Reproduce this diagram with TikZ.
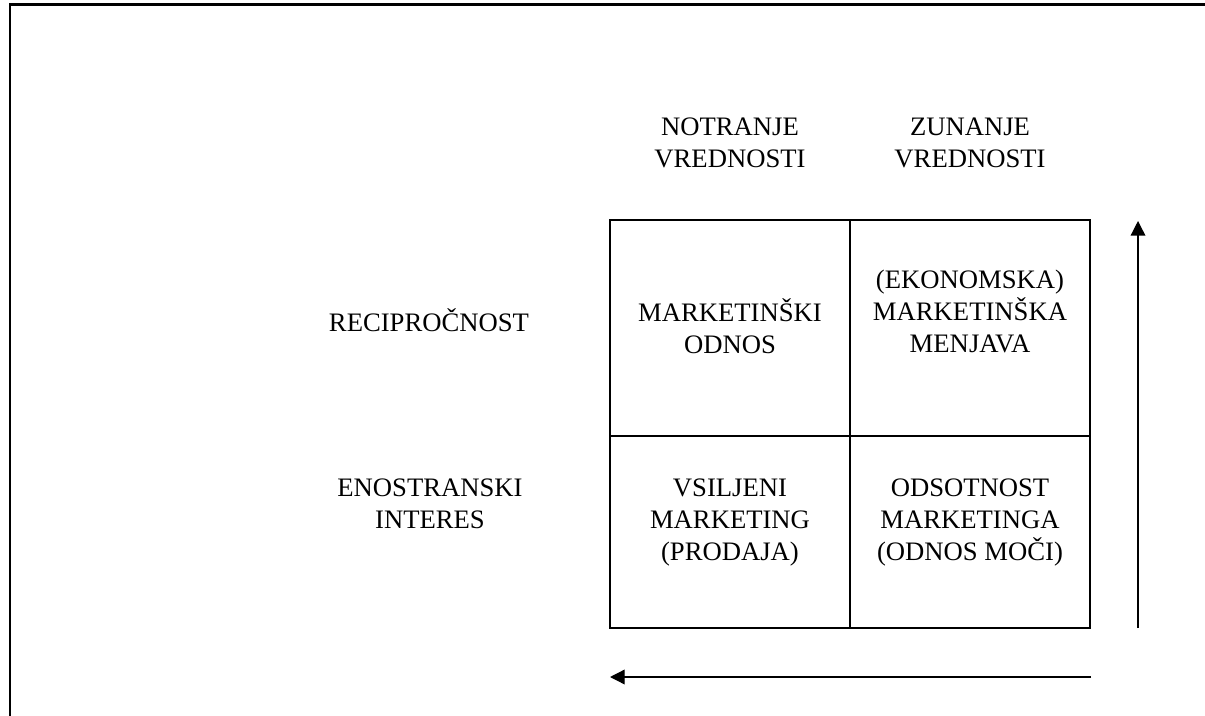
\documentclass[tikz,border=0pt]{standalone}
\usepackage{fontspec}
\setmainfont{Liberation Serif}
\usepackage{tikz}
\usetikzlibrary{arrows.meta}

\tikzset{
	cell/.style={draw, line width=1.3pt, minimum width=180pt, inner sep=0pt},
	lbl/.style={align=center, font=\fontsize{20}{24}\selectfont, inner sep=0pt},
	axis/.style={line width=1pt, -{Triangle[length=11pt,width=11pt]}}
}

\begin{document}
\begin{tikzpicture}[x=0.75pt, y=-0.75pt]
	\useasboundingbox (0,0) rectangle (1205,716);
	% frame
	\draw[line width=1.7pt] (1205,4.5) -- (10,4.5) -- (10,716);

	% cells
	\node[cell, minimum height=162pt] (ml) at (730,328) {};
	\node[cell, minimum height=162pt] (me) at (970,328) {};
	\node[cell, minimum height=144pt] (vm) at (730,532) {};
	\node[cell, minimum height=144pt] (om) at (970,532) {};

	% column heads
	\node[lbl] (nv) at (730,143) {NOTRANJE\\VREDNOSTI};
	\node[lbl] (zv) at (970,143) {ZUNANJE\\VREDNOSTI};

	% row heads
	\node[lbl] (rec) at (429,320) {RECIPROČNOST};
	\node[lbl] (eno) at (430,504) {ENOSTRANSKI\\INTERES};

	% cell texts
	\node[lbl] at (730,326) {MARKETINŠKI\\ODNOS};
	\node[lbl] at (970,311) {(EKONOMSKA)\\MARKETINŠKA\\MENJAVA};
	\node[lbl] at (730,523) {VSILJENI\\MARKETING\\(PRODAJA)};
	\node[lbl] at (970,523) {ODSOTNOST\\MARKETINGA\\(ODNOS MOČI)};

	% arrows
	\coordinate (up0) at (1138,628);
	\coordinate (up1) at (1138,221);
	\coordinate (lf0) at (1091,677);
	\coordinate (lf1) at (610,677);
	\draw[axis] (up0) -- (up1);
	\draw[axis] (lf0) -- (lf1);
\end{tikzpicture}
\end{document}
